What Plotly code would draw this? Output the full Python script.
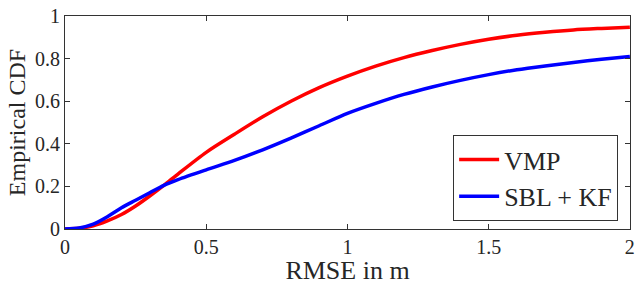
import plotly.graph_objects as go

rmse = [0, 0.05, 0.1, 0.15, 0.2, 0.25, 0.3, 0.35, 0.4, 0.5, 0.6, 0.7, 0.8, 0.9,
        1.0, 1.1, 1.2, 1.3, 1.4, 1.5, 1.6, 1.7, 1.8, 1.9, 2.0]
vmp = [0, 0.003, 0.015, 0.038, 0.068, 0.108, 0.155, 0.205, 0.258, 0.36, 0.445,
       0.527, 0.6, 0.664, 0.718, 0.765, 0.805, 0.838, 0.867, 0.891, 0.91, 0.924,
       0.935, 0.942, 0.948]
sbl_kf = [0, 0.005, 0.023, 0.058, 0.1, 0.135, 0.17, 0.205, 0.232, 0.278, 0.322,
          0.372, 0.427, 0.485, 0.543, 0.59, 0.632, 0.667, 0.698, 0.725, 0.748,
          0.766, 0.782, 0.797, 0.81]

x_ticks = [0, 0.5, 1, 1.5, 2]
x_tick_text = ["0", "0.5", "1", "1.5", "2"]
y_ticks = [0, 0.2, 0.4, 0.6, 0.8, 1]
y_tick_text = ["0", "0.2", "0.4", "0.6", "0.8", "1"]

FONT = "Liberation Serif"
AX = "#333333"
TXT = "#262626"

fig = go.Figure()
fig.add_trace(go.Scatter(x=rmse, y=vmp, mode="lines", name="VMP",
                         line=dict(color="#ff0000", width=3.5, shape="spline", smoothing=0.8)))
fig.add_trace(go.Scatter(x=rmse, y=sbl_kf, mode="lines", name="SBL + KF",
                         line=dict(color="#0000ff", width=3.5, shape="spline", smoothing=0.8)))

axis_common = dict(showgrid=False, zeroline=False, showline=True, linecolor=AX,
                   linewidth=1, mirror="allticks", ticks="inside", ticklen=5,
                   tickcolor=AX, tickwidth=1, ticklabeloverflow="allow",
                   tickfont=dict(family=FONT, size=20, color=TXT))

fig.update_xaxes(range=[0, 2.0005], tickvals=x_ticks, ticktext=x_tick_text,
                 title=dict(text="RMSE in m", font=dict(family=FONT, size=26, color=TXT),
                            standoff=3),
                 **axis_common)
fig.update_yaxes(range=[0, 1.0003], tickvals=y_ticks, ticktext=y_tick_text,
                 title=dict(text="Empirical CDF", font=dict(family=FONT, size=24, color=TXT),
                            standoff=2),
                 **axis_common)

fig.update_layout(
    width=640, height=285,
    margin=dict(l=65, r=5, t=10, b=56),
    plot_bgcolor="white", paper_bgcolor="white",
    showlegend=True,
    legend=dict(x=0.979, y=0.037, xanchor="right", yanchor="bottom",
                bgcolor="white", bordercolor=AX, borderwidth=1,
                font=dict(family=FONT, size=26, color=TXT),
                tracegroupgap=0, itemwidth=40),
)

fig.write_html("out.html", config={"displayModeBar": False},
               post_script="document.body.style.margin='0';document.body.style.padding='0';")
